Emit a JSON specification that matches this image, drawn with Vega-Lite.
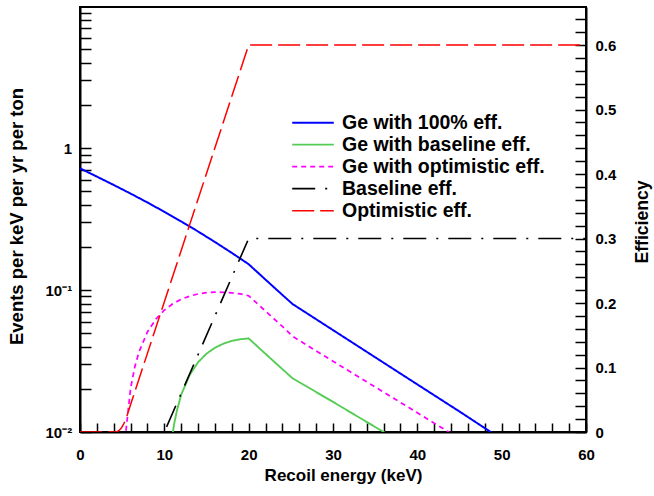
{
  "$schema": "https://vega.github.io/schema/vega-lite/v6.json",
  "width": 506,
  "height": 425,
  "autosize": "none",
  "padding": {"left": 80, "top": 7, "right": 68, "bottom": 64},
  "background": "white",
  "config": {
    "view": {"stroke": "black", "strokeWidth": 2},
    "font": "Liberation Sans"
  },
  "datasets": {
    "rates": [
      {"E": 0, "v": 0.7194, "series": "Ge with 100% eff."},
      {"E": 2, "v": 0.6288, "series": "Ge with 100% eff."},
      {"E": 4, "v": 0.5489, "series": "Ge with 100% eff."},
      {"E": 6, "v": 0.4774, "series": "Ge with 100% eff."},
      {"E": 8, "v": 0.4133, "series": "Ge with 100% eff."},
      {"E": 10, "v": 0.3553, "series": "Ge with 100% eff."},
      {"E": 12, "v": 0.3041, "series": "Ge with 100% eff."},
      {"E": 14, "v": 0.2582, "series": "Ge with 100% eff."},
      {"E": 16, "v": 0.2178, "series": "Ge with 100% eff."},
      {"E": 18, "v": 0.1825, "series": "Ge with 100% eff."},
      {"E": 20, "v": 0.1519, "series": "Ge with 100% eff."},
      {"E": 22, "v": 0.1183, "series": "Ge with 100% eff."},
      {"E": 24, "v": 0.0923, "series": "Ge with 100% eff."},
      {"E": 25.2, "v": 0.0797, "series": "Ge with 100% eff."},
      {"E": 30, "v": 0.0522, "series": "Ge with 100% eff."},
      {"E": 35, "v": 0.0336, "series": "Ge with 100% eff."},
      {"E": 40, "v": 0.02163, "series": "Ge with 100% eff."},
      {"E": 45, "v": 0.01394, "series": "Ge with 100% eff."},
      {"E": 48.7, "v": 0.0100, "series": "Ge with 100% eff."},
      {"E": 50, "v": 0.0090, "series": "Ge with 100% eff."},
      {"E": 10.9, "v": 0.0089, "series": "Ge with baseline eff."},
      {"E": 11, "v": 0.0099, "series": "Ge with baseline eff."},
      {"E": 11.2, "v": 0.0117, "series": "Ge with baseline eff."},
      {"E": 11.5, "v": 0.0142, "series": "Ge with baseline eff."},
      {"E": 12, "v": 0.0183, "series": "Ge with baseline eff."},
      {"E": 13, "v": 0.0252, "series": "Ge with baseline eff."},
      {"E": 14, "v": 0.0310, "series": "Ge with baseline eff."},
      {"E": 15, "v": 0.0356, "series": "Ge with baseline eff."},
      {"E": 16, "v": 0.0392, "series": "Ge with baseline eff."},
      {"E": 17, "v": 0.0419, "series": "Ge with baseline eff."},
      {"E": 18, "v": 0.0438, "series": "Ge with baseline eff."},
      {"E": 19, "v": 0.0450, "series": "Ge with baseline eff."},
      {"E": 20, "v": 0.0456, "series": "Ge with baseline eff."},
      {"E": 22, "v": 0.0355, "series": "Ge with baseline eff."},
      {"E": 24, "v": 0.0277, "series": "Ge with baseline eff."},
      {"E": 25.2, "v": 0.0239, "series": "Ge with baseline eff."},
      {"E": 30, "v": 0.0163, "series": "Ge with baseline eff."},
      {"E": 36, "v": 0.0100, "series": "Ge with baseline eff."},
      {"E": 37, "v": 0.0093, "series": "Ge with baseline eff."},
      {"E": 5.2, "v": 0.0066, "series": "Ge with optimistic eff."},
      {"E": 5.5, "v": 0.0109, "series": "Ge with optimistic eff."},
      {"E": 6, "v": 0.0203, "series": "Ge with optimistic eff."},
      {"E": 6.5, "v": 0.0288, "series": "Ge with optimistic eff."},
      {"E": 7, "v": 0.0367, "series": "Ge with optimistic eff."},
      {"E": 8, "v": 0.0507, "series": "Ge with optimistic eff."},
      {"E": 9, "v": 0.0624, "series": "Ge with optimistic eff."},
      {"E": 10, "v": 0.0721, "series": "Ge with optimistic eff."},
      {"E": 11, "v": 0.0799, "series": "Ge with optimistic eff."},
      {"E": 12, "v": 0.0861, "series": "Ge with optimistic eff."},
      {"E": 13, "v": 0.0905, "series": "Ge with optimistic eff."},
      {"E": 14, "v": 0.0938, "series": "Ge with optimistic eff."},
      {"E": 15, "v": 0.0957, "series": "Ge with optimistic eff."},
      {"E": 16, "v": 0.0966, "series": "Ge with optimistic eff."},
      {"E": 17, "v": 0.0964, "series": "Ge with optimistic eff."},
      {"E": 18, "v": 0.0956, "series": "Ge with optimistic eff."},
      {"E": 19, "v": 0.0939, "series": "Ge with optimistic eff."},
      {"E": 20, "v": 0.0911, "series": "Ge with optimistic eff."},
      {"E": 22, "v": 0.0710, "series": "Ge with optimistic eff."},
      {"E": 24, "v": 0.0554, "series": "Ge with optimistic eff."},
      {"E": 25.2, "v": 0.0472, "series": "Ge with optimistic eff."},
      {"E": 30, "v": 0.0315, "series": "Ge with optimistic eff."},
      {"E": 35, "v": 0.02074, "series": "Ge with optimistic eff."},
      {"E": 40, "v": 0.01367, "series": "Ge with optimistic eff."},
      {"E": 43.7, "v": 0.0100, "series": "Ge with optimistic eff."},
      {"E": 45, "v": 0.0090, "series": "Ge with optimistic eff."}
    ],
    "eff": [
      {"E": 0, "e": 0, "series": "Baseline eff."},
      {"E": 10, "e": 0, "series": "Baseline eff."},
      {"E": 20, "e": 0.3, "series": "Baseline eff."},
      {"E": 60, "e": 0.3, "series": "Baseline eff."},
      {"E": 0, "e": 0, "series": "Optimistic eff."},
      {"E": 4.3, "e": 0, "series": "Optimistic eff."},
      {"E": 4.6, "e": 0.002, "series": "Optimistic eff."},
      {"E": 4.9, "e": 0.006, "series": "Optimistic eff."},
      {"E": 5.2, "e": 0.013, "series": "Optimistic eff."},
      {"E": 5.5, "e": 0.022, "series": "Optimistic eff."},
      {"E": 6, "e": 0.0425, "series": "Optimistic eff."},
      {"E": 20, "e": 0.6, "series": "Optimistic eff."},
      {"E": 60, "e": 0.6, "series": "Optimistic eff."}
    ]
  },
  "encoding": {
    "x": {
      "field": "E",
      "type": "quantitative",
      "scale": {"domain": [0, 60], "nice": false, "zero": false},
      "axis": {
        "title": "Recoil energy (keV)",
        "values": [0, 2, 4, 6, 8, 10, 12, 14, 16, 18, 20, 22, 24, 26, 28, 30, 32, 34, 36, 38, 40, 42, 44, 46, 48, 50, 52, 54, 56, 58, 60],
        "labelExpr": "datum.value % 10 == 0 ? datum.label : ''",
        "ticks": true,
        "tickSize": -9,
        "tickColor": "black",
        "tickWidth": 1.5,
        "domainColor": "black",
        "domainWidth": 2,
        "grid": false,
        "labelFlush": false,
        "labelOverlap": false,
        "labelFont": "Liberation Sans",
        "labelFontSize": 15,
        "labelFontWeight": "bold",
        "labelColor": "black",
        "labelPadding": 24,
        "labelBaseline": "top",
        "titleFont": "Liberation Sans",
        "titleFontSize": 17,
        "titleFontWeight": "bold",
        "titleColor": "black",
        "titleX": 263,
        "titleY": 48,
        "titleAlign": "center",
        "titleBaseline": "alphabetic"
      }
    },
    "color": {
      "field": "series",
      "type": "nominal",
      "scale": {
        "domain": ["Ge with 100% eff.", "Ge with baseline eff.", "Ge with optimistic eff.", "Baseline eff.", "Optimistic eff."],
        "range": ["#0000ff", "#55cc55", "#ff00ff", "#000000", "#ff0000"]
      },
      "legend": {
        "orient": "none",
        "legendX": 211,
        "legendY": 105,
        "title": null,
        "symbolType": "stroke",
        "symbolSize": 1730,
        "symbolStrokeWidth": 2,
        "labelFont": "Liberation Sans",
        "labelFontSize": 19.5,
        "labelFontWeight": "bold",
        "labelColor": "black",
        "labelOffset": 7,
        "labelLimit": 400,
        "clipHeight": 21.3,
        "rowPadding": 0,
        "padding": 0
      }
    },
    "strokeDash": {
      "field": "series",
      "type": "nominal",
      "scale": {
        "domain": ["Ge with 100% eff.", "Ge with baseline eff.", "Ge with optimistic eff.", "Baseline eff.", "Optimistic eff."],
        "range": [[1, 0], [1, 0], [5, 4], [23, 10, 2, 10], [22, 6]]
      },
      "legend": {
        "orient": "none",
        "legendX": 211,
        "legendY": 105,
        "title": null,
        "symbolType": "stroke",
        "symbolSize": 1730,
        "symbolStrokeWidth": 2,
        "labelFont": "Liberation Sans",
        "labelFontSize": 19.5,
        "labelFontWeight": "bold",
        "labelColor": "black",
        "labelOffset": 7,
        "labelLimit": 400,
        "clipHeight": 21.3,
        "rowPadding": 0,
        "padding": 0
      }
    },
    "strokeWidth": {
      "field": "series",
      "type": "nominal",
      "scale": {
        "domain": ["Ge with 100% eff.", "Ge with baseline eff.", "Ge with optimistic eff.", "Baseline eff.", "Optimistic eff."],
        "range": [2, 1.5, 2, 1.5, 2]
      },
      "legend": null
    }
  },
  "layer": [
    {
      "data": {"name": "rates"},
      "mark": {"type": "line", "clip": true},
      "encoding": {
        "y": {
          "field": "v",
          "type": "quantitative",
          "scale": {"type": "log", "domain": [0.01, 9.84], "nice": false},
          "axis": {
            "orient": "left",
            "title": "Events per keV per yr per ton",
            "values": [0.01, 0.02, 0.03, 0.04, 0.05, 0.06, 0.07, 0.08, 0.09, 0.1, 0.2, 0.3, 0.4, 0.5, 0.6, 0.7, 0.8, 0.9, 1, 2, 3, 4, 5, 6, 7, 8, 9],
            "labelExpr": "abs(datum.value - 1) < 0.01 ? '1' : (abs(datum.value - 0.1) < 0.001 ? '10⁻¹' : (abs(datum.value - 0.01) < 0.0001 ? '10⁻²' : ''))",
            "ticks": true,
            "tickSize": -11,
            "tickColor": "black",
            "tickWidth": 1.5,
            "domainColor": "black",
            "domainWidth": 2,
            "grid": false,
            "labelFlush": false,
            "labelOverlap": false,
            "labelFont": "Liberation Sans",
            "labelFontSize": 15,
            "labelFontWeight": "bold",
            "labelColor": "black",
            "labelPadding": 19.3,
            "labelBaseline": "middle",
            "titleFont": "Liberation Sans",
            "titleFontSize": 18.5,
            "titleFontWeight": "bold",
            "titleColor": "black",
            "titleAngle": 270,
            "titleX": -58,
            "titleY": 209,
            "titleAlign": "center",
            "titleBaseline": "alphabetic"
          }
        }
      }
    },
    {
      "data": {"name": "eff"},
      "mark": {"type": "line", "clip": true},
      "encoding": {
        "y": {
          "field": "e",
          "type": "quantitative",
          "scale": {"domain": [0, 0.659], "nice": false, "zero": false},
          "axis": {
            "orient": "right",
            "title": "Efficiency",
            "values": [0, 0.02, 0.04, 0.06, 0.08, 0.1, 0.12, 0.14, 0.16, 0.18, 0.2, 0.22, 0.24, 0.26, 0.28, 0.3, 0.32, 0.34, 0.36, 0.38, 0.4, 0.42, 0.44, 0.46, 0.48, 0.5, 0.52, 0.54, 0.56, 0.58, 0.6, 0.62, 0.64],
            "labelExpr": "abs(datum.value*10 - round(datum.value*10)) < 0.001 ? format(datum.value, '.1~f') : ''",
            "ticks": true,
            "tickSize": -11,
            "tickColor": "black",
            "tickWidth": 1.5,
            "domainColor": "black",
            "domainWidth": 2,
            "grid": false,
            "labelFlush": false,
            "labelOverlap": false,
            "labelFont": "Liberation Sans",
            "labelFontSize": 15,
            "labelFontWeight": "bold",
            "labelColor": "black",
            "labelPadding": 20,
            "labelBaseline": "middle",
            "titleFont": "Liberation Sans",
            "titleFontSize": 17.6,
            "titleFontWeight": "bold",
            "titleColor": "black",
            "titleAngle": 270,
            "titleX": 61.6,
            "titleY": 214.5,
            "titleAlign": "center",
            "titleBaseline": "alphabetic"
          }
        }
      }
    }
  ],
  "resolve": {"scale": {"y": "independent"}}
}
